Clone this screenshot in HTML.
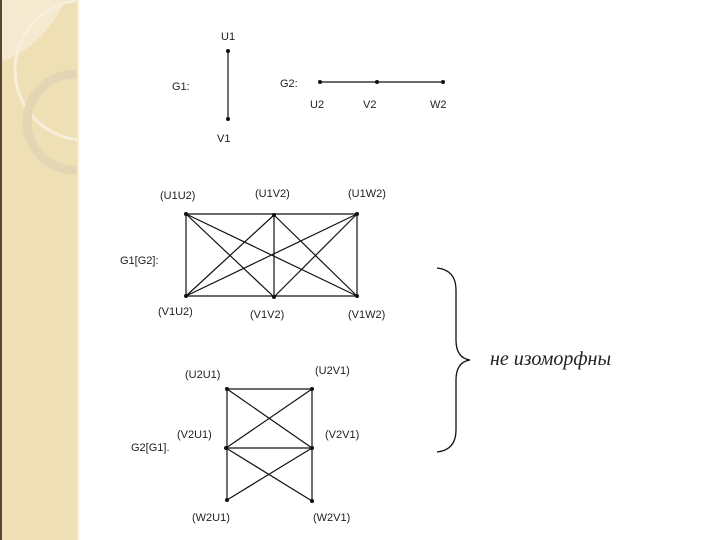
<!DOCTYPE html>
<html><head><meta charset="utf-8"><style>
html,body{margin:0;padding:0;width:720px;height:540px;background:#fff;overflow:hidden}
svg{display:block}
text{font-family:"Liberation Sans",sans-serif;font-size:11px;fill:#222}
</style></head><body>
<svg width="720" height="540" viewBox="0 0 720 540">
<defs><clipPath id="c"><rect x="0" y="0" width="78" height="540"/></clipPath></defs>
<rect x="0" y="0" width="79" height="540" fill="#efdfb4"/>
<g clip-path="url(#c)">
<path d="M0,62 Q40,50 66,0 L0,0Z" fill="#f5ead0"/>
<circle cx="85" cy="70" r="70" fill="none" stroke="#f7efdc" stroke-width="3"/>
<circle cx="75" cy="122" r="48" fill="none" stroke="#e4d6b4" stroke-width="9"/>
</g>
<rect x="0" y="0" width="2" height="540" fill="#5a4630"/>
<rect x="77" y="0" width="2" height="540" fill="#f6ecd4"/>
<g stroke="#111" stroke-width="1.2" fill="none">
<line x1="228" y1="51" x2="228" y2="119"/>
<line x1="320" y1="82" x2="443" y2="82"/>
<line x1="186" y1="214" x2="357" y2="214"/>
<line x1="186" y1="296" x2="357" y2="296"/>
<line x1="186" y1="214" x2="186" y2="296"/>
<line x1="357" y1="214" x2="357" y2="296"/>
<line x1="274" y1="215" x2="274" y2="297"/>
<line x1="186" y1="214" x2="274" y2="297"/>
<line x1="186" y1="214" x2="357" y2="296"/>
<line x1="274" y1="215" x2="186" y2="296"/>
<line x1="274" y1="215" x2="357" y2="296"/>
<line x1="357" y1="214" x2="186" y2="296"/>
<line x1="357" y1="214" x2="274" y2="297"/>
<line x1="227" y1="389" x2="312" y2="389"/>
<line x1="226" y1="448" x2="312" y2="448"/>
<line x1="227" y1="389" x2="227" y2="500"/>
<line x1="312" y1="389" x2="312" y2="501"/>
<line x1="227" y1="389" x2="312" y2="448"/>
<line x1="312" y1="389" x2="226" y2="448"/>
<line x1="226" y1="448" x2="312" y2="501"/>
<line x1="312" y1="448" x2="227" y2="500"/>
<path d="M437,268 Q456,270 456,290 L456,340 Q456,358 470,360 Q456,362 456,380 L456,430 Q456,450 437,452" stroke-width="1.3"/>
</g>
<g fill="#111">
<circle cx="228" cy="51" r="2"/><circle cx="228" cy="119" r="2"/>
<circle cx="320" cy="82" r="2"/><circle cx="377" cy="82" r="2"/><circle cx="443" cy="82" r="2"/>
<circle cx="186" cy="214" r="2"/><circle cx="274" cy="215" r="2"/><circle cx="357" cy="214" r="2"/>
<circle cx="186" cy="296" r="2"/><circle cx="274" cy="297" r="2"/><circle cx="357" cy="296" r="2"/>
<circle cx="227" cy="389" r="2"/><circle cx="312" cy="389" r="2"/><circle cx="226" cy="448" r="2"/>
<circle cx="312" cy="448" r="2"/><circle cx="227" cy="500" r="2"/><circle cx="312" cy="501" r="2"/>
</g>
<text x="221" y="40">U1</text><text x="217" y="142">V1</text>
<text x="172" y="90">G1:</text><text x="280" y="87">G2:</text>
<text x="310" y="108">U2</text><text x="363" y="108">V2</text><text x="430" y="108">W2</text>
<text x="160" y="199">(U1U2)</text><text x="255" y="197">(U1V2)</text><text x="348" y="197">(U1W2)</text>
<text x="120" y="264">G1[G2]:</text>
<text x="158" y="315">(V1U2)</text><text x="250" y="318">(V1V2)</text><text x="348" y="318">(V1W2)</text>
<text x="185" y="378">(U2U1)</text><text x="315" y="374">(U2V1)</text>
<text x="177" y="438">(V2U1)</text><text x="325" y="438">(V2V1)</text>
<text x="131" y="451">G2[G1].</text>
<text x="192" y="521">(W2U1)</text><text x="313" y="521">(W2V1)</text>
<text x="490" y="365" style="font-family:'Liberation Serif',serif;font-style:italic;font-size:20px">не изоморфны</text>
</svg>
</body></html>
